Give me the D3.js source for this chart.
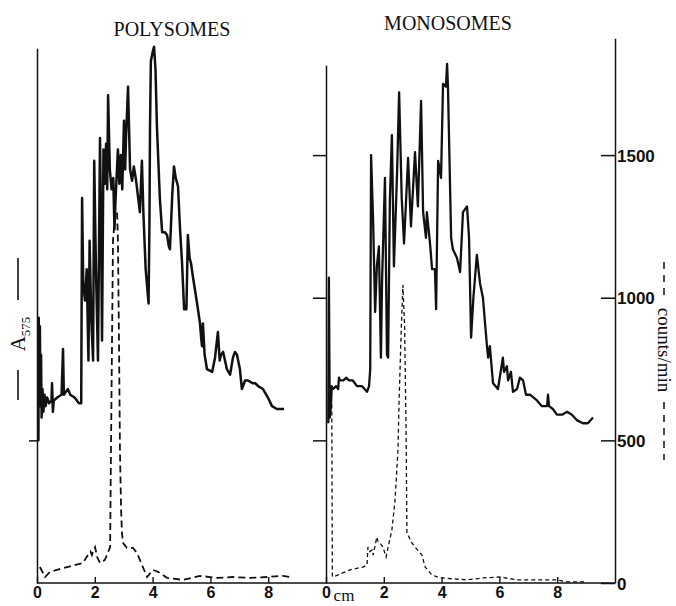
<!DOCTYPE html>
<html>
<head>
<meta charset="utf-8">
<script src="https://cdn.jsdelivr.net/npm/d3@7"></script>
<style>
  html, body { margin: 0; padding: 0; background: #fff; }
  svg { display: block; }
</style>
</head>
<body>
<svg id="chart" width="676" height="606"></svg>
<script>
// Gradient profiles of polysomes and monosomes:
// absorbance at 575 nm (solid) and radioactivity in counts/min (dashed),
// plotted against distance along the tube in cm.

const panelTitles = ["POLYSOMES", "MONOSOMES"];
const xTickValues = [0, 2, 4, 6, 8];
const countTickValues = [0, 500, 1000, 1500];
const absTickValuesPoly = [0.5];
const absTickValuesMono = [0.5, 1.0, 1.5];

// [cm, A575] – polysome absorbance trace
const polysomeA575 = [
  [0.00, 0.50], [0.05, 0.50], [0.06, 0.93], [0.08, 0.75], [0.10, 0.90], [0.12, 0.62],
  [0.14, 0.80], [0.16, 0.58], [0.19, 0.68], [0.22, 0.60], [0.26, 0.66], [0.30, 0.62],
  [0.35, 0.65], [0.42, 0.63], [0.50, 0.64], [0.52, 0.70], [0.55, 0.60], [0.58, 0.64],
  [0.70, 0.65], [0.85, 0.66], [0.90, 0.82], [0.93, 0.66], [1.00, 0.67], [1.07, 0.68],
  [1.15, 0.66], [1.30, 0.65], [1.45, 0.63], [1.53, 0.63], [1.56, 1.35], [1.60, 1.05],
  [1.66, 0.99], [1.72, 1.10], [1.78, 0.78], [1.82, 1.20], [1.88, 0.92], [1.94, 0.78],
  [1.98, 1.48], [2.04, 1.10], [2.11, 0.78], [2.18, 1.56], [2.22, 1.20], [2.25, 0.85],
  [2.30, 1.52], [2.35, 1.40], [2.39, 1.54], [2.43, 1.38], [2.46, 1.71], [2.52, 1.45],
  [2.58, 1.38], [2.64, 1.42], [2.68, 1.24], [2.72, 1.35], [2.80, 1.52], [2.85, 1.40],
  [2.90, 1.50], [2.95, 1.38], [3.01, 1.62], [3.05, 1.45], [3.08, 1.56], [3.15, 1.74],
  [3.22, 1.45], [3.29, 1.41], [3.35, 1.46], [3.43, 1.41], [3.50, 1.35], [3.56, 1.30],
  [3.63, 1.48], [3.68, 1.30], [3.76, 1.10], [3.86, 0.98], [3.89, 1.25], [3.91, 1.59],
  [3.94, 1.83], [4.00, 1.86], [4.05, 1.88], [4.10, 1.80], [4.15, 1.60], [4.25, 1.35],
  [4.33, 1.23], [4.42, 1.23], [4.50, 1.22], [4.56, 1.18], [4.60, 1.17], [4.68, 1.36],
  [4.74, 1.46], [4.80, 1.42], [4.88, 1.39], [4.95, 1.24], [5.02, 1.12], [5.09, 0.96],
  [5.17, 0.96], [5.22, 1.22], [5.28, 1.14], [5.33, 1.12], [5.40, 1.07], [5.54, 0.98],
  [5.64, 0.91], [5.68, 0.86], [5.71, 0.83], [5.74, 0.91], [5.80, 0.80], [5.88, 0.75],
  [6.06, 0.74], [6.16, 0.79], [6.26, 0.88], [6.32, 0.78], [6.37, 0.80], [6.44, 0.81],
  [6.57, 0.75], [6.68, 0.73], [6.78, 0.79], [6.85, 0.81], [6.92, 0.80], [7.02, 0.75],
  [7.09, 0.68], [7.20, 0.71], [7.30, 0.71], [7.47, 0.70], [7.56, 0.70], [7.65, 0.69],
  [7.82, 0.68], [7.99, 0.65], [8.13, 0.62], [8.30, 0.61], [8.55, 0.61]
];

// [cm, counts/min] – polysome radioactivity
const polysomeCounts = [
  [0.10, 56], [0.28, 21], [0.45, 39], [1.04, 56], [1.59, 70], [1.76, 98], [1.85, 110],
  [1.90, 98], [1.95, 115], [2.01, 126], [2.08, 91], [2.18, 70], [2.35, 81], [2.53, 126],
  [2.56, 466], [2.60, 887], [2.63, 1202], [2.70, 1290], [2.77, 1300], [2.80, 1202],
  [2.84, 817], [2.87, 466], [2.91, 256], [2.94, 175], [2.98, 140], [3.11, 123],
  [3.32, 123], [3.46, 105], [3.81, 21], [4.01, 46], [4.19, 39], [4.50, 18], [5.05, 11],
  [5.64, 25], [6.23, 18], [6.78, 21], [7.37, 18], [7.96, 21], [8.51, 25], [8.75, 21]
];

// [cm, A575] – monosome absorbance trace
const monosomeA575 = [
  [0.08, 0.56], [0.10, 1.07], [0.13, 0.58], [0.17, 0.62], [0.20, 0.69], [0.24, 0.68],
  [0.35, 0.69], [0.42, 0.68], [0.45, 0.72], [0.48, 0.71], [0.60, 0.71], [0.70, 0.72],
  [0.80, 0.71], [0.93, 0.71], [1.07, 0.69], [1.25, 0.69], [1.42, 0.67], [1.49, 0.69],
  [1.53, 0.75], [1.56, 1.50], [1.63, 1.27], [1.70, 0.95], [1.76, 1.11], [1.83, 1.18],
  [1.90, 0.79], [1.94, 1.06], [2.04, 1.42], [2.11, 0.80], [2.15, 0.79], [2.21, 1.34],
  [2.28, 1.57], [2.35, 1.11], [2.46, 1.44], [2.53, 1.72], [2.62, 1.35], [2.70, 1.19],
  [2.84, 1.49], [2.94, 1.25], [3.08, 1.51], [3.18, 1.32], [3.29, 1.69], [3.36, 1.30],
  [3.46, 1.21], [3.49, 1.30], [3.60, 1.19], [3.67, 1.10], [3.77, 1.10], [3.81, 0.96],
  [3.88, 1.48], [3.98, 1.42], [4.05, 1.75], [4.15, 1.74], [4.19, 1.82], [4.22, 1.74],
  [4.33, 1.21], [4.39, 1.17], [4.53, 1.14], [4.64, 1.09], [4.74, 1.30], [4.88, 1.32],
  [4.95, 1.21], [5.02, 0.86], [5.10, 1.00], [5.22, 1.15], [5.33, 1.05], [5.43, 1.00],
  [5.57, 0.83], [5.61, 0.79], [5.67, 0.83], [5.78, 0.70], [5.95, 0.68], [6.12, 0.79],
  [6.16, 0.74], [6.26, 0.76], [6.30, 0.71], [6.40, 0.74], [6.47, 0.67], [6.61, 0.68],
  [6.71, 0.72], [6.82, 0.71], [6.92, 0.66], [7.06, 0.66], [7.30, 0.64], [7.47, 0.62],
  [7.65, 0.62], [7.68, 0.66], [7.72, 0.62], [7.85, 0.61], [7.99, 0.59], [8.17, 0.59],
  [8.34, 0.60], [8.51, 0.59], [8.69, 0.57], [8.89, 0.56], [9.06, 0.56], [9.24, 0.58]
];

// [cm, counts/min] – monosome radioactivity
const monosomeCounts = [
  [0.17, 650], [0.20, 630], [0.22, 25], [0.24, 21], [0.83, 46], [1.28, 56], [1.42, 63],
  [1.45, 126], [1.52, 110], [1.59, 116], [1.63, 98], [1.76, 161], [1.80, 145],
  [1.87, 140], [1.97, 126], [2.08, 91], [2.15, 126], [2.28, 186], [2.39, 291],
  [2.49, 466], [2.53, 642], [2.60, 876], [2.66, 1045], [2.72, 900], [2.77, 543],
  [2.80, 175], [2.98, 140], [3.08, 126], [3.32, 98], [3.43, 56], [3.67, 28], [3.94, 18],
  [4.88, 11], [5.43, 18], [6.02, 21], [6.61, 11], [7.16, 11], [7.99, 11], [8.34, 4],
  [8.96, 4]
];

// top ends of the three vertical axes, in their own units
const polyAbsAxisTop = 1.875;
const monoAbsAxisTop = 1.815;
const countsAxisTop = 1910;

const svg = d3.select("#chart");
const baseY = 583;
const topY = 41;

const xPoly = d3.scaleLinear().domain([0, 10]).range([37, 326]);
const xMono = d3.scaleLinear().domain([0, 10]).range([326, 615]);
const yCounts = d3.scaleLinear().domain([0, 1900]).range([baseY, topY]);
const yAbs = d3.scaleLinear().domain([0, 1.9]).range([baseY, topY]);

const serif = "'Liberation Serif', 'Times New Roman', serif";
const sans = "'Liberation Sans', Arial, sans-serif";

function clipScale(scale, top) {
  return scale.copy().domain([0, top]).range([baseY, scale(top)]);
}

// ---- vertical axes ----
const polyAxis = svg.append("g")
  .attr("transform", `translate(${xPoly(0)},0)`)
  .call(d3.axisLeft(clipScale(yAbs, polyAbsAxisTop))
    .tickValues(absTickValuesPoly).tickFormat("").tickSizeInner(8).tickSizeOuter(0));

const monoAxis = svg.append("g")
  .attr("transform", `translate(${xMono(0)},0)`)
  .call(d3.axisLeft(clipScale(yAbs, monoAbsAxisTop))
    .tickValues(absTickValuesMono).tickFormat("").tickSizeInner(13).tickSizeOuter(0));

const countAxis = svg.append("g")
  .attr("transform", `translate(${xMono(10)},0)`)
  .call(d3.axisRight(clipScale(yCounts, countsAxisTop))
    .tickValues(countTickValues).tickFormat(d3.format("d"))
    .tickSizeInner(-14).tickSizeOuter(0).tickPadding(2));

countAxis.selectAll("text")
  .attr("dy", "0.36em")
  .style("font-family", sans).style("font-size", "17px").style("font-weight", "bold")
  .attr("fill", "#111");

// ---- bottom axes ----
svg.append("line")
  .attr("x1", xPoly(0)).attr("x2", xMono(10))
  .attr("y1", baseY).attr("y2", baseY)
  .attr("stroke", "#111").attr("stroke-width", 1.6);

[xPoly, xMono].forEach(x => {
  const g = svg.append("g")
    .attr("transform", `translate(0,${baseY})`)
    .call(d3.axisBottom(x).tickValues(xTickValues)
      .tickSizeInner(-6).tickSizeOuter(0).tickPadding(4));
  g.select(".domain").remove();
  g.selectAll("text")
    .style("font-family", sans).style("font-size", "16px").style("font-weight", "bold")
    .attr("fill", "#111");
  g.selectAll("line").attr("stroke", "#111").attr("stroke-width", 1.4);
});

[polyAxis, monoAxis, countAxis].forEach(g => {
  g.selectAll("path, line").attr("stroke", "#111").attr("stroke-width", 1.5);
});

// ---- traces ----
const panels = [
  { x: xPoly, abs: polysomeA575, counts: polysomeCounts, title: panelTitles[0],
    titleX: 172, titleY: 36, solidW: 2.5, dashW: 1.8, dash: "7,4" },
  { x: xMono, abs: monosomeA575, counts: monosomeCounts, title: panelTitles[1],
    titleX: 448, titleY: 30, solidW: 2.3, dashW: 1.3, dash: "4,3" }
];

panels.forEach(p => {
  const absLine = d3.line().x(d => p.x(d[0])).y(d => yAbs(d[1]));
  const cntLine = d3.line().x(d => p.x(d[0])).y(d => yCounts(d[1]));

  svg.append("path")
    .datum(p.counts)
    .attr("d", cntLine)
    .attr("fill", "none")
    .attr("stroke", "#111")
    .attr("stroke-width", p.dashW)
    .attr("stroke-dasharray", p.dash);

  svg.append("path")
    .datum(p.abs)
    .attr("d", absLine)
    .attr("fill", "none")
    .attr("stroke", "#111")
    .attr("stroke-width", p.solidW)
    .attr("stroke-linejoin", "round");

  svg.append("text")
    .attr("x", p.titleX).attr("y", p.titleY)
    .attr("text-anchor", "middle")
    .style("font-family", serif).style("font-size", "20px")
    .attr("fill", "#111")
    .text(p.title);
});

// ---- axis legends ----
// A575 with solid line pieces, reading upward on the left
svg.append("line").attr("x1", 18).attr("x2", 18).attr("y1", 258).attr("y2", 300)
  .attr("stroke", "#111").attr("stroke-width", 1.6);
svg.append("line").attr("x1", 18).attr("x2", 18).attr("y1", 370).attr("y2", 400)
  .attr("stroke", "#111").attr("stroke-width", 1.6);
const aLabel = svg.append("text")
  .attr("transform", "translate(25,334) rotate(-90)")
  .attr("text-anchor", "middle")
  .style("font-family", serif).style("font-size", "21px")
  .attr("fill", "#111");
aLabel.append("tspan").text("A");
aLabel.append("tspan").attr("dy", 5).style("font-size", "13px").text("575");

// counts/min with dashed line pieces, reading downward on the right
svg.append("line").attr("x1", 664).attr("x2", 664).attr("y1", 262).attr("y2", 298)
  .attr("stroke", "#111").attr("stroke-width", 1.5).attr("stroke-dasharray", "7,6");
svg.append("line").attr("x1", 664).attr("x2", 664).attr("y1", 402).attr("y2", 460)
  .attr("stroke", "#111").attr("stroke-width", 1.5).attr("stroke-dasharray", "7,6");
svg.append("text")
  .attr("transform", "translate(658,350) rotate(90)")
  .attr("text-anchor", "middle")
  .style("font-family", serif).style("font-size", "19px")
  .attr("fill", "#111")
  .text("counts/min");

// x-axis unit
svg.append("text")
  .attr("x", 344).attr("y", 601)
  .attr("text-anchor", "middle")
  .style("font-family", serif).style("font-size", "17px")
  .attr("fill", "#111")
  .text("cm");
</script>
</body>
</html>
